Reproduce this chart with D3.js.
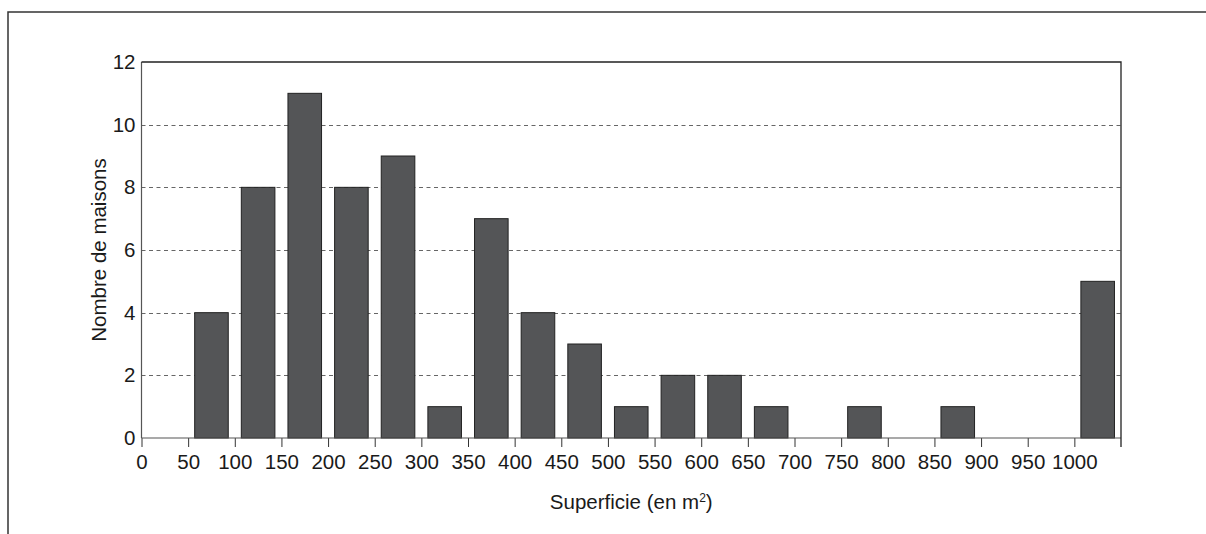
<!DOCTYPE html>
<html>
<head>
<meta charset="utf-8">
<script src="https://cdn.jsdelivr.net/npm/d3@7"></script>
<style>
  body { margin: 0; background: #fff; }
  svg { display: block; font-family: "Liberation Sans", Arial, sans-serif; }
  .axis text { fill: #1a1a1a; font-size: 20.5px; }
  .title { fill: #1a1a1a; font-size: 20.5px; }
</style>
</head>
<body>
<svg width="1206" height="534"></svg>
<script>
// bin starts (m²) and number of houses in each bin
var binStarts = [50, 100, 150, 200, 250, 300, 350, 400, 450, 500, 550, 600, 650, 700, 750, 800, 850, 900, 950, 1000];
var counts    = [4, 8, 11, 8, 9, 1, 7, 4, 3, 1, 2, 2, 1, 0, 1, 0, 1, 0, 0, 5];
var xTicks = [0, 50, 100, 150, 200, 250, 300, 350, 400, 450, 500, 550, 600, 650, 700, 750, 800, 850, 900, 950, 1000];
var yTicks = [0, 2, 4, 6, 8, 10, 12];
var yGrid  = [2, 4, 6, 8, 10];

var svg = d3.select("svg"),
    margin = {top: 62, right: 85, bottom: 96, left: 141.5},
    width = +svg.attr("width") - margin.left - margin.right,
    height = +svg.attr("height") - margin.top - margin.bottom;

// outer frame (top + left edges only)
svg.append("path")
    .attr("d", "M8,534V12H1206")
    .attr("fill", "none")
    .attr("stroke", "#333")
    .attr("stroke-width", 1.5);

var g = svg.append("g").attr("transform", "translate(" + margin.left + "," + margin.top + ")");

var x = d3.scaleLinear().domain([0, 1050]).range([0, width]),
    y = d3.scaleLinear().domain([0, 12]).range([height, 0]);

var data = binStarts.map(function(s, i) { return {start: s, count: counts[i]}; });

// dashed grid
g.selectAll(".grid")
  .data(yGrid)
  .enter().append("line")
    .attr("class", "grid")
    .attr("x1", 0)
    .attr("x2", width)
    .attr("y1", function(d) { return Math.round(y(d)) + 0.5; })
    .attr("y2", function(d) { return Math.round(y(d)) + 0.5; })
    .attr("stroke", "#666")
    .attr("stroke-dasharray", "4,3.5");

// bars
g.selectAll(".bar")
  .data(data.filter(function(d) { return d.count > 0; }))
  .enter().append("rect")
    .attr("class", "bar")
    .attr("x", function(d) { return x(d.start + 7); })
    .attr("width", function(d) { return x(d.start + 43) - x(d.start + 7); })
    .attr("y", function(d) { return y(d.count); })
    .attr("height", function(d) { return height - y(d.count); })
    .attr("fill", "#545557")
    .attr("stroke", "#222")
    .attr("stroke-width", 1);

// x axis
var xAxis = g.append("g")
    .attr("class", "axis axis--x")
    .attr("transform", "translate(0," + height + ")")
    .call(d3.axisBottom(x).tickValues(xTicks).tickSize(9).tickPadding(7).tickFormat(d3.format("d")));
xAxis.select(".domain").remove();
xAxis.selectAll(".tick line").attr("stroke", "#333");
xAxis.append("line")
    .attr("x1", 0).attr("x2", width)
    .attr("stroke", "#555").attr("stroke-width", 1.2);

// y axis
var yAxis = g.append("g")
    .attr("class", "axis axis--y")
    .call(d3.axisLeft(y).tickValues(yTicks).tickSize(0).tickPadding(6));
yAxis.select(".domain").remove();
yAxis.append("line")
    .attr("y1", 0).attr("y2", height)
    .attr("stroke", "#555").attr("stroke-width", 1.2);

// top and right border of the plot
g.append("path")
    .attr("d", "M0,0H" + width + "V" + (height + 9))
    .attr("fill", "none")
    .attr("stroke", "#222")
    .attr("stroke-width", 1.3);

// axis titles
var xTitle = svg.append("text")
    .attr("class", "title")
    .attr("x", margin.left + width / 2)
    .attr("y", 509)
    .attr("text-anchor", "middle");
xTitle.append("tspan").text("Superficie (en m");
xTitle.append("tspan").attr("dy", -7).style("font-size", "12px").text("2");
xTitle.append("tspan").attr("dy", 7).text(")");

svg.append("text")
    .attr("class", "title")
    .attr("transform", "translate(106," + (margin.top + height / 2) + ") rotate(-90)")
    .attr("text-anchor", "middle")
    .text("Nombre de maisons");
</script>
</body>
</html>
